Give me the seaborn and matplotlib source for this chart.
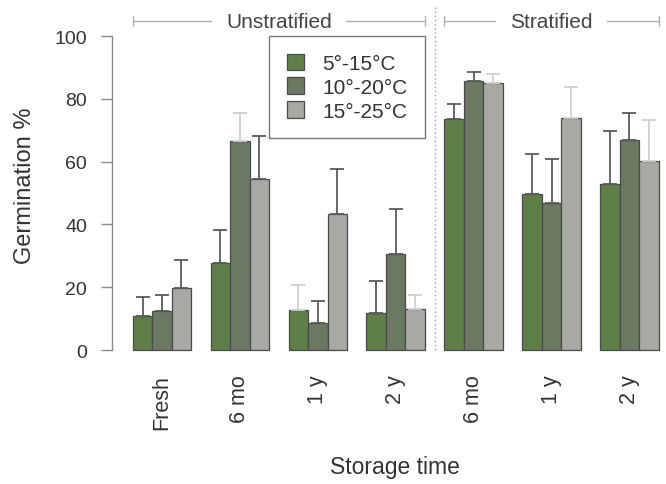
import matplotlib
matplotlib.use("Agg")
import matplotlib.pyplot as plt
import seaborn as sns
import pandas as pd
import numpy as np

# ---------------- data ----------------
storage = ["Fresh", "6 mo", "1 y", "2 y", "6 mo", "1 y", "2 y"]
treatment = ["Unstratified"] * 4 + ["Stratified"] * 3
temps = ["5°-15°C", "10°-20°C", "15°-25°C"]

germ_5_15 = [10.7, 27.6, 12.6, 11.9, 73.6, 49.8, 52.8]
germ_10_20 = [12.3, 66.6, 8.6, 30.6, 85.8, 46.9, 66.8]
germ_15_25 = [19.6, 54.3, 43.3, 13.1, 85.0, 73.9, 60.2]

err_5_15 = [6.3, 10.6, 8.1, 10.1, 4.8, 12.6, 17.0]
err_10_20 = [5.3, 8.9, 7.0, 14.3, 2.7, 14.0, 8.8]
err_15_25 = [9.1, 13.7, 14.3, 4.5, 3.0, 9.7, 13.1]

ylabel = "Germination %"
xlabel = "Storage time"

# ---------------- styles ----------------
colors = ["#5e7f48", "#6b7862", "#a6aaa3"]
DARK, LIGHT = "#5a5a5a", "#cfcfcf"
err_colors = [
    [DARK, DARK, LIGHT, DARK, DARK, DARK, DARK],
    [DARK, LIGHT, DARK, DARK, DARK, DARK, DARK],
    [DARK, DARK, DARK, LIGHT, LIGHT, LIGHT, LIGHT],
]

keys = [f"{t}|{s}" for t, s in zip(treatment, storage)]
means = [germ_5_15, germ_10_20, germ_15_25]
errs = [err_5_15, err_10_20, err_15_25]

rows = []
for ti, t in enumerate(temps):
    for k, v in zip(keys, means[ti]):
        rows.append({"key": k, "germ": v, "temp": t})
df = pd.DataFrame(rows)

sns.set_style("white")
plt.rcParams["font.family"] = ["Liberation Sans", "DejaVu Sans"]

W, H = 666, 485
fig = plt.figure(figsize=(W / 100, H / 100), dpi=100)
ax_left_px, ax_right_px = 112, 666
y0_px, y100_px = 351, 37
ppu = (y0_px - y100_px) / 100.0
ylim = (-3, 104)
ax_top_px = y100_px - (ylim[1] - 100) * ppu
ax_bot_px = y0_px - ylim[0] * ppu
ax = fig.add_axes([ax_left_px / W, 1 - ax_bot_px / H,
                   (ax_right_px - ax_left_px) / W, (ax_bot_px - ax_top_px) / H])

sns.barplot(data=df, x="key", y="germ", hue="temp", order=keys, hue_order=temps,
            palette=colors, width=0.75, errorbar=None, edgecolor="#4a4a4a",
            linewidth=0.9, saturation=1, ax=ax)

bar_conts = list(ax.containers)

# error bars (upper only)
for ti, cont in enumerate(bar_conts):
    for bi, p in enumerate(cont.patches):
        xc = p.get_x() + p.get_width() / 2
        h = p.get_height()
        ax.errorbar(xc, h, yerr=[[0], [errs[ti][bi]]], fmt="none",
                    ecolor=err_colors[ti][bi], elinewidth=1.3, capsize=5,
                    capthick=1.3, zorder=1)

# x limits matching pixel positions
spacing = 77.9
c0 = 162
ax.set_xlim((ax_left_px - c0) / spacing, (ax_right_px - c0) / spacing)
ax.set_ylim(*ylim)

for s in ["top", "right", "bottom"]:
    ax.spines[s].set_visible(False)
ax.spines["left"].set_bounds(0, 100)
ax.spines["left"].set_color("#8a8a8a")
ax.spines["left"].set_linewidth(1.0)
ax.set_yticks([0, 20, 40, 60, 80, 100])
ax.tick_params(axis="y", length=8, width=1.0, color="#8a8a8a", pad=10,
               labelsize=14, labelcolor="#333333", left=True)
ax.set_xticks(range(len(storage)))
ax.set_xticklabels(storage, rotation=90, fontsize=15.5, color="#333333",
                   va="top")
ax.tick_params(axis="x", length=0, pad=10.5)
ax.set_xlabel("")
ax.set_ylabel("")

fig.text(25 / W, 1 - 186 / H, ylabel, rotation=90, ha="center", va="center",
         fontsize=17, color="#333333")
fig.text(395 / W, 1 - 468 / H, xlabel, ha="center", va="center",
         fontsize=16.5, color="#333333")

# dotted separator
sep = 3.5
ax.plot([sep, sep], [0, 110], linestyle=(0, (1, 2)), color="#9a9a9a",
        lw=1.0, clip_on=False)

# top brackets
bars0 = bar_conts[0].patches
bars2 = bar_conts[2].patches
groups = [("Unstratified", 0, 3), ("Stratified", 4, 6)]
yb = (y0_px - 22) / ppu
for name, a, b in groups:
    xl = bars0[a].get_x()
    xr = bars2[b].get_x() + bars2[b].get_width()
    ax.plot([xl, xr], [yb, yb], color="#b0b0b0", lw=1.0, clip_on=False, zorder=3)
    for xe in (xl, xr):
        ax.plot([xe, xe], [yb - 1.6, yb + 1.6], color="#b0b0b0", lw=1.0,
                clip_on=False, zorder=3)
    ax.text((xl + xr) / 2, yb, name, ha="center", va="center", fontsize=15,
            color="#444444", zorder=4, clip_on=False,
            bbox=dict(facecolor="white", edgecolor="none", pad=10))

# legend
leg = ax.legend(loc="upper left",
                bbox_to_anchor=((269 - ax_left_px) / (ax_right_px - ax_left_px),
                                (ax_bot_px - 37) / (ax_bot_px - ax_top_px)),
                borderaxespad=0, fontsize=15, frameon=True, fancybox=False,
                handlelength=0.85, handleheight=0.85, handletextpad=0.85,
                labelspacing=0.2, borderpad=0.85, title=None)
leg.get_frame().set_edgecolor("#555555")
leg.get_frame().set_linewidth(1.0)
for t in leg.get_texts():
    t.set_color("#333333")

fig.savefig("out.png", dpi=100)
